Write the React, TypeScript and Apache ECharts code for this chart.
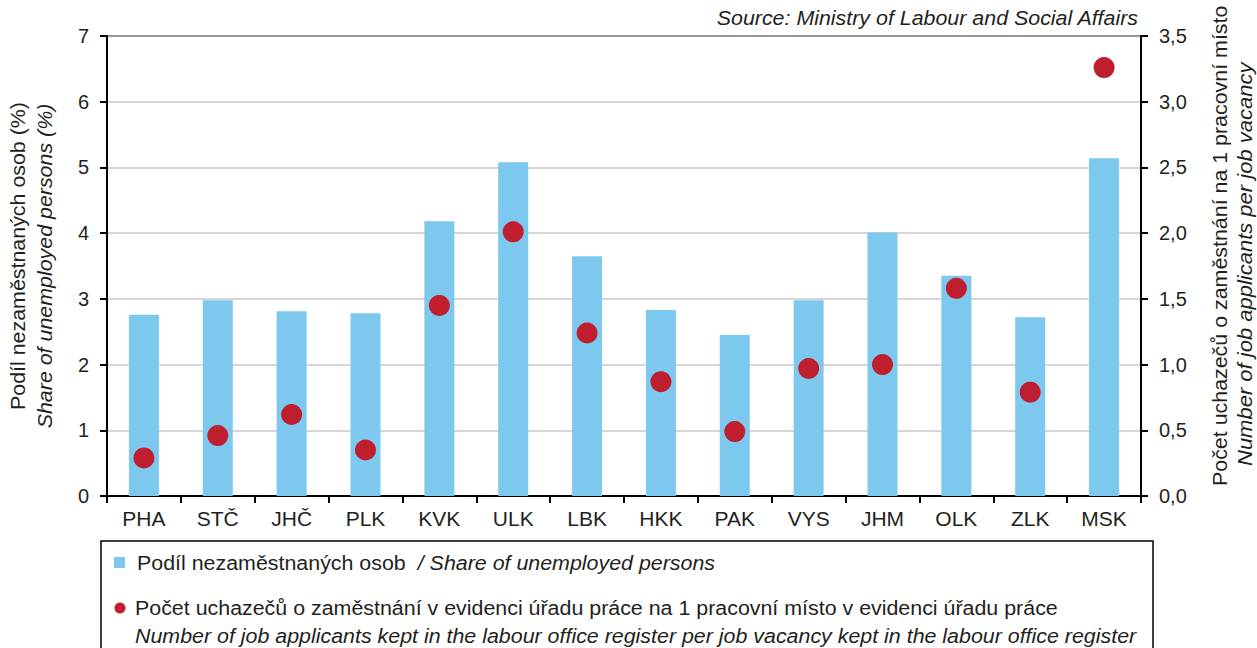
import React, { useEffect, useRef } from "react";
import * as echarts from "echarts";

const categories = ["PHA", "STČ", "JHČ", "PLK", "KVK", "ULK", "LBK", "HKK", "PAK", "VYS", "JHM", "OLK", "ZLK", "MSK"];
const unemployedShare = [2.76, 2.98, 2.81, 2.78, 4.18, 5.08, 3.65, 2.83, 2.45, 2.98, 4.01, 3.35, 2.72, 5.14];
const applicantsPerVacancy = [0.29, 0.46, 0.62, 0.35, 1.45, 2.01, 1.24, 0.87, 0.49, 0.97, 1.0, 1.58, 0.79, 3.26];

const leftTitle1 = "Podíl nezaměstnaných osob (%)";
const leftTitle2 = "Share of unemployed persons (%)";
const rightTitle1 = "Počet uchazečů o zaměstnání na 1 pracovní místo";
const rightTitle2 = "Number of job applicants per job vacancy";
const sourceText = "Source: Ministry of Labour and Social Affairs";
const legend1a = "Podíl nezaměstnaných osob";
const legend1b = "/ Share of unemployed persons";
const legend2a = "Počet uchazečů o zaměstnání v evidenci úřadu práce na 1 pracovní místo v evidenci úřadu práce";
const legend2b = "Number of job applicants kept in the labour office register per job vacancy kept in the labour office register";

const FONT = "'Liberation Sans', Arial, sans-serif";
const TXT = "#231f20";
const BLUE = "#7dc8ee";
const RED = "#be1e2d";
const FS = 20;
const SX = 1.07;

export default function App() {
  const ref = useRef<HTMLDivElement>(null);
  useEffect(() => {
    if (!ref.current) return;
    const chart = echarts.init(ref.current, null, { renderer: "svg" });
    chart.setOption({
      animation: false,
      backgroundColor: "#fff",
      textStyle: { fontFamily: FONT },
      grid: {
        left: 107, right: 116, top: 36, bottom: 152,
        show: true, borderColor: "#000", borderWidth: 2, backgroundColor: "transparent",
      },
      xAxis: {
        type: "category",
        data: categories,
        axisLine: { lineStyle: { color: "#000", width: 2 } },
        axisTick: { show: true, length: 7, lineStyle: { color: "#000", width: 2 } },
        axisLabel: { color: TXT, fontSize: 21, fontFamily: FONT, margin: 12 },
      },
      yAxis: [
        {
          type: "value", min: 0, max: 7, interval: 1,
          axisLine: { show: true, lineStyle: { color: "#000", width: 2 } },
          axisTick: { show: true, length: 7, lineStyle: { color: "#000", width: 2 } },
          axisLabel: { color: TXT, fontSize: FS, fontFamily: FONT, margin: 18 },
          splitLine: { show: true, lineStyle: { color: "#c8c8c8", width: 1.5 } },
        },
        {
          type: "value", min: 0, max: 3.5, interval: 0.5, position: "right",
          axisLine: { show: true, lineStyle: { color: "#000", width: 2 } },
          axisTick: { show: true, length: 7, lineStyle: { color: "#000", width: 2 } },
          axisLabel: {
            color: TXT, fontSize: FS, fontFamily: FONT, margin: 18,
            formatter: (v: number) => v.toFixed(1).replace(".", ","),
          },
          splitLine: { show: false },
        },
      ],
      series: [
        {
          name: legend1a,
          type: "bar",
          yAxisIndex: 0,
          data: unemployedShare,
          barWidth: 30,
          itemStyle: { color: BLUE },
        },
        {
          name: legend2a,
          type: "scatter",
          yAxisIndex: 1,
          data: applicantsPerVacancy,
          symbol: "circle",
          symbolSize: 21,
          itemStyle: { color: RED, opacity: 1 },
          z: 5,
        },
      ],
      graphic: [
        {
          type: "text", x: 1138, y: 18, scaleX: SX,
          style: { text: sourceText, fill: TXT, font: `italic ${FS}px ${FONT}`, textAlign: "right", textVerticalAlign: "middle" },
        },
        {
          type: "text", x: 18, y: 256, rotation: Math.PI / 2, scaleX: SX,
          style: { text: leftTitle1, fill: TXT, font: `${FS}px ${FONT}`, textAlign: "center", textVerticalAlign: "middle" },
        },
        {
          type: "text", x: 45, y: 266, rotation: Math.PI / 2, scaleX: SX,
          style: { text: leftTitle2, fill: TXT, font: `italic ${FS}px ${FONT}`, textAlign: "center", textVerticalAlign: "middle" },
        },
        {
          type: "text", x: 1220, y: 486, rotation: Math.PI / 2, scaleX: SX,
          style: { text: rightTitle1, fill: TXT, font: `${FS}px ${FONT}`, textAlign: "left", textVerticalAlign: "middle" },
        },
        {
          type: "text", x: 1245, y: 466, rotation: Math.PI / 2, scaleX: 1.1,
          style: { text: rightTitle2, fill: TXT, font: `italic ${FS}px ${FONT}`, textAlign: "left", textVerticalAlign: "middle" },
        },
        {
          type: "rect", shape: { x: 101, y: 541, width: 1052, height: 140 },
          style: { fill: "none", stroke: "#000", lineWidth: 1.5 },
        },
        {
          type: "rect", shape: { x: 114, y: 557, width: 11, height: 11 },
          style: { fill: BLUE },
        },
        {
          type: "text", x: 137, y: 563, scaleX: SX,
          style: {
            text: `{a|${legend1a}}{b|  ${legend1b}}`,
            rich: {
              a: { fontSize: FS, fontFamily: FONT, fill: TXT, color: TXT },
              b: { fontSize: FS, fontFamily: FONT, fontStyle: "italic", fill: TXT, color: TXT },
            },
            textVerticalAlign: "middle",
          },
        },
        {
          type: "circle", shape: { cx: 120, cy: 608, r: 5.5 },
          style: { fill: RED },
        },
        {
          type: "text", x: 135, y: 608, scaleX: SX,
          style: { text: legend2a, fill: TXT, font: `${FS}px ${FONT}`, textVerticalAlign: "middle" },
        },
        {
          type: "text", x: 135, y: 636, scaleX: SX,
          style: { text: legend2b, fill: TXT, font: `italic ${FS}px ${FONT}`, textVerticalAlign: "middle" },
        },
      ],
    });
    return () => chart.dispose();
  }, []);
  return <div ref={ref} style={{ position: "fixed", left: 0, top: 0, width: 1257, height: 648 }} />;
}
